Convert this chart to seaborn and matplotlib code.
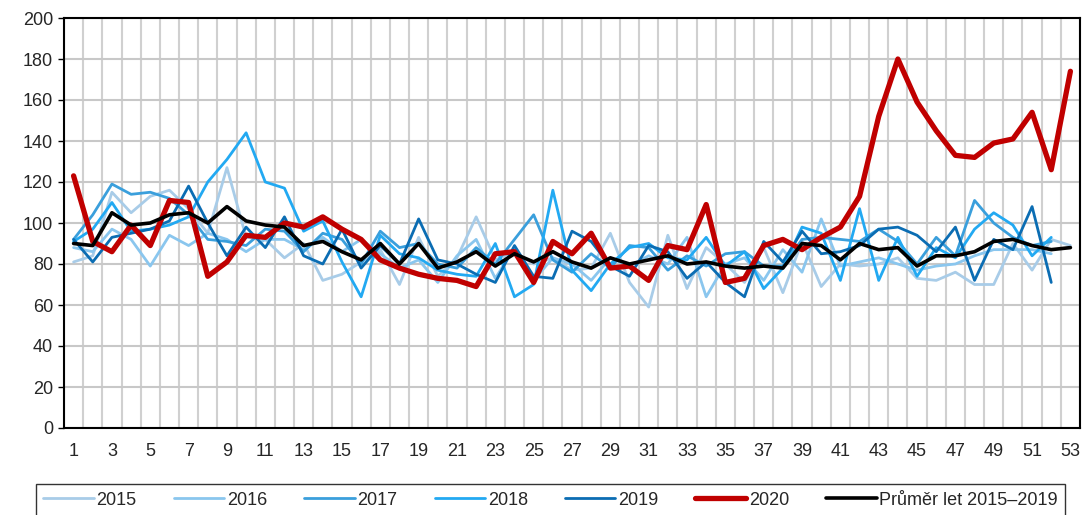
import matplotlib
matplotlib.use('Agg')
import matplotlib.pyplot as plt
import numpy as np
import pandas as pd
import seaborn as sns

# Weekly values (week 1..53)
weeks = list(range(1, 54))
y2015 = [81, 84, 115, 105, 113, 116, 107, 95, 127, 93, 92, 83, 90, 72, 75, 81, 87, 70, 93, 74,
         83, 103, 82, 86, 80, 83, 77, 78, 95, 71, 59, 94, 68, 88, 80, 71, 88, 66, 91, 69,
         80, 79, 80, 83, 73, 72, 76, 70, 70, 90, 77, 92, 89]
y2016 = [88, 86, 97, 92, 79, 94, 89, 95, 92, 86, 92, 92, 87, 93, 86, 92, 85, 78, 82, 71,
         84, 92, 73, 88, 72, 83, 80, 72, 83, 79, 84, 80, 93, 64, 80, 83, 72, 87, 76, 102,
         79, 81, 83, 80, 77, 79, 80, 84, 87, 87, 87, 85]
y2017 = [92, 104, 119, 114, 115, 112, 104, 92, 91, 89, 97, 96, 86, 95, 92, 80, 96, 88, 90, 80,
         78, 88, 80, 92, 104, 82, 76, 85, 78, 89, 88, 77, 84, 79, 85, 86, 79, 79, 92, 93,
         92, 91, 97, 91, 80, 93, 84, 111, 100, 93, 89, 91]
y2018 = [91, 97, 110, 96, 97, 99, 103, 120, 131, 144, 120, 117, 96, 101, 81, 64, 94, 85, 83, 77,
         75, 74, 90, 64, 70, 116, 77, 67, 80, 88, 90, 83, 82, 93, 79, 86, 68, 78, 98, 95,
         72, 107, 72, 93, 74, 88, 83, 97, 105, 99, 84, 93]
y2019 = [92, 81, 93, 95, 97, 101, 118, 100, 84, 98, 88, 103, 84, 80, 97, 78, 89, 80, 102, 82,
         80, 75, 71, 89, 74, 73, 96, 91, 79, 74, 89, 86, 73, 81, 71, 64, 91, 81, 96, 85,
         86, 89, 97, 98, 94, 86, 98, 72, 92, 87, 108, 71]
y2020 = [123, 91, 86, 99, 89, 111, 110, 74, 81, 94, 93, 100, 98, 103, 97, 92, 82, 78, 75, 73,
         72, 69, 85, 86, 71, 91, 85, 95, 78, 79, 72, 89, 87, 109, 71, 73, 89, 92, 87, 93,
         98, 113, 152, 180, 159, 145, 133, 132, 139, 141, 154, 126, 174]
avg = [90, 89, 105, 99, 100, 104, 105, 100, 108, 101, 99, 98, 89, 91, 86, 82, 90, 80, 90, 78,
       81, 86, 79, 85, 81, 86, 81, 78, 83, 80, 82, 84, 80, 81, 79, 78, 79, 78, 90, 89,
       82, 90, 87, 88, 79, 84, 84, 86, 91, 92, 89, 87, 88]

labels = ["2015", "2016", "2017", "2018", "2019", "2020", "Průměr let 2015–2019"]
series = [y2015, y2016, y2017, y2018, y2019, y2020, avg]
colors = ["#a8cce8", "#8ac6ee", "#3a9fdc", "#22a9f2", "#0b6db3", "#c00000", "#000000"]
widths = [2.0, 2.0, 2.0, 2.0, 2.0, 3.8, 2.6]

sns.set_theme(style="white")
plt.rcParams['font.family'] = ['Liberation Sans', 'DejaVu Sans']

fig = plt.figure(figsize=(10.86, 5.15), dpi=100)
ax = fig.add_axes([64 / 1086, 1 - 428 / 515, 1016 / 1086, 410 / 515])

for lab, vals, col, lw in zip(labels, series, colors, widths):
    sns.lineplot(x=weeks[:len(vals)], y=vals, ax=ax, color=col, linewidth=lw, label=lab)

ax.set_xlim(0.5, 53.5)
ax.set_ylim(0, 200)
ax.set_yticks(range(0, 201, 20))
ax.set_xticks(range(1, 54, 2))
ax.set_xticks(np.arange(0.5, 54, 1), minor=True)
ax.grid(False)
ax.grid(True, axis='x', which='minor', color='#d0d0d0', linewidth=1.5)
ax.grid(True, axis='y', which='major', color='#c8c8c8', linewidth=1.5)
ax.set_axisbelow(True)
ax.tick_params(axis='x', which='both', length=0, labelsize=13, pad=11)
ax.tick_params(axis='y', which='major', length=4, width=1, direction='out', left=True,
               labelsize=13, pad=4, color='black')
for sp in ax.spines.values():
    sp.set_color('black')
    sp.set_linewidth(1.5)
ax.set_xlabel("")
ax.set_ylabel("")

ax.get_legend().remove()
handles, labs = ax.get_legend_handles_labels()
leg = fig.legend(handles, labs, loc='upper center', bbox_to_anchor=(0.507, 1 - 484 / 515),
                 ncol=7, frameon=True, fancybox=False, edgecolor='black', fontsize=13,
                 handlelength=2.8, handletextpad=0.15, columnspacing=2.05,
                 borderpad=0.42, borderaxespad=0)
leg.get_frame().set_linewidth(1.0)

fig.savefig("out.png", dpi=100)
